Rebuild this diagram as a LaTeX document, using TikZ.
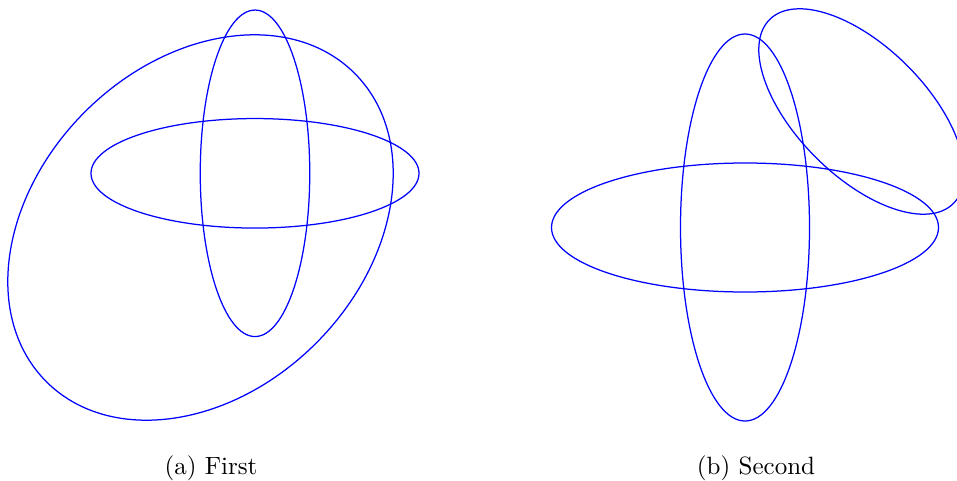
\documentclass[tikz,border=0pt]{standalone}
\begin{document}
\begin{tikzpicture}[x=0.4pt,y=-0.4pt,
  ell/.style={draw=blue,line width=0.5pt},
  captext/.style={anchor=base,inner sep=0pt,font=\normalsize}]
\useasboundingbox (0,0) rectangle (957,480);
\clip (0,0) rectangle (957,480);
% left subfigure
\coordinate (L) at (255,173.3);
\coordinate (LB) at (200.5,227.5);
\draw[ell] (L) ellipse [x radius=65.6pt, y radius=21.9pt];
\draw[ell] (L) ellipse [x radius=21.9pt, y radius=65.3pt];
\draw[ell,rotate around={45:(LB)}] (LB) ellipse [x radius=87.2pt, y radius=65.4pt];
% right subfigure
\coordinate (R) at (745,227.5);
\coordinate (RB) at (861.5,111.5);
\draw[ell] (R) ellipse [x radius=77.4pt, y radius=25.8pt];
\draw[ell] (R) ellipse [x radius=25.8pt, y radius=77.4pt];
\draw[ell,rotate around={-45:(RB)}] (RB) ellipse [x radius=52pt, y radius=25.9pt];
% captions
\node[captext] (ca) at (211,474) {(a) First};
\node[captext] (cb) at (756,474) {(b) Second};
\end{tikzpicture}
\end{document}
